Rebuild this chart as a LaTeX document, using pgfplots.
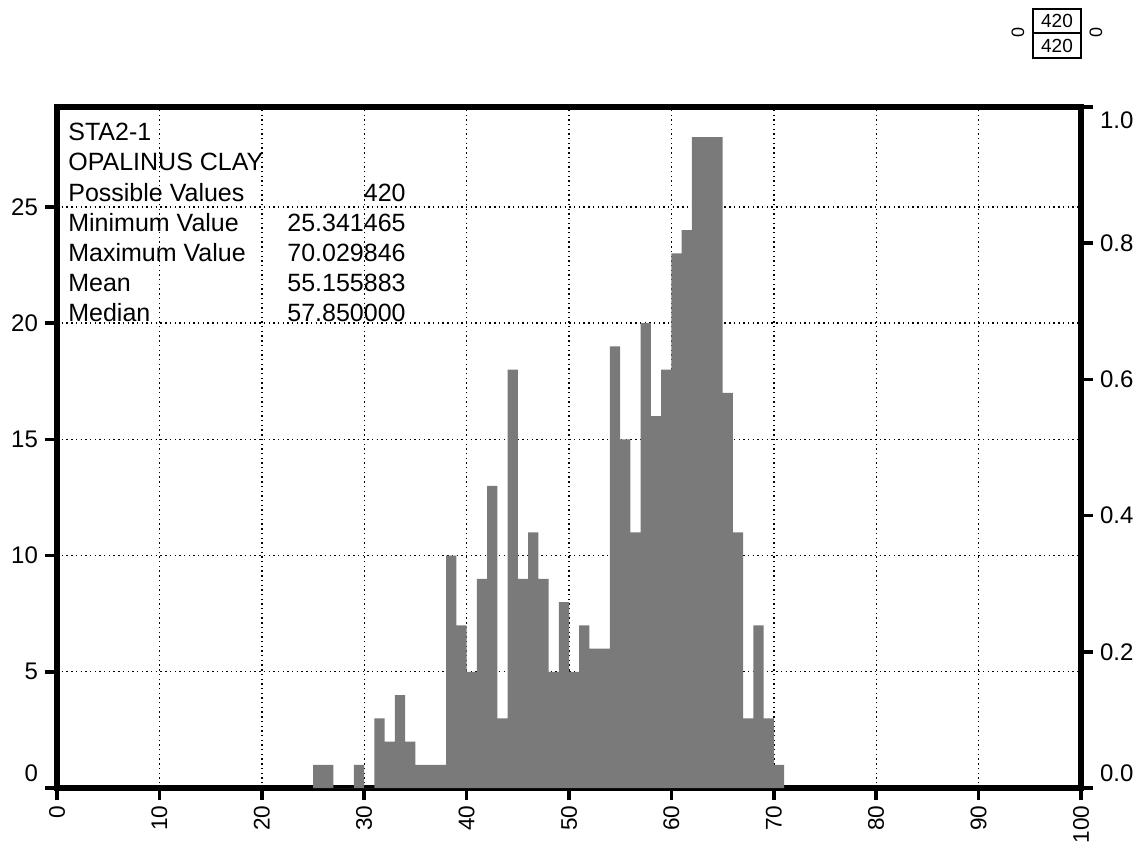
\documentclass[border=0pt]{standalone}
\usepackage{pgfplots}
\pgfplotsset{compat=1.18}
\usepackage{fontspec}
\setmainfont{Liberation Sans}
\definecolor{bargray}{RGB}{122,122,122}

% Bin counts (bin width 1), left edge -> count; last point closes the interval
\pgfplotstableread{
x   n
25  1
26  1
27  0
28  0
29  1
30  0
31  3
32  2
33  4
34  2
35  1
36  1
37  1
38  10
39  7
40  5
41  9
42  13
43  3
44  18
45  9
46  11
47  9
48  5
49  8
50  5
51  7
52  6
53  6
54  19
55  15
56  11
57  20
58  16
59  18
60  23
61  24
62  28
63  28
64  28
65  17
66  11
67  3
68  7
69  3
70  1
71  0
}\histdata

\newcommand{\lblfont}{\fontsize{12}{14}\selectfont}
\newcommand{\xlblfont}{\fontsize{11.3}{13}\selectfont}
\newcommand{\txtfont}{\fontsize{12.5}{15}\selectfont}

\begin{document}
\begin{tikzpicture}
\path[use as bounding box] (0,0) rectangle (570pt,421.5pt);

\begin{axis}[
  at={(28.5pt,27.5pt)}, anchor=south west,
  scale only axis, width=512pt, height=340.5pt,
  xmin=0, xmax=100, ymin=0, ymax=29.3,
  axis line style={line width=2.6pt},
  tick style={line width=1.8pt, black},
  major tick length=6pt,
  tick align=outside,
  xtick pos=bottom, ytick pos=left,
  xtick={0,10,...,100},
  xticklabels={0,10,20,30,40,50,60,70,80,90,100},
  ytick={0,5,...,25},
  yticklabels={\raisebox{7.5pt}[\height][\depth]{0},5,10,15,20,25},
  xticklabel style={rotate=90, anchor=east, font=\xlblfont, inner sep=2.6pt},
  yticklabel style={anchor=east, font=\lblfont},
  grid=major,
  major grid style={black, line width=0.7pt, dash pattern=on 0.7pt off 1.65pt},
]
\addplot[ybar interval, fill=bargray, draw=none] table[x=x, y=n] {\histdata};

\begin{scope}[every node/.style={inner sep=0pt, font=\txtfont}]
\node[anchor=base west] at (axis cs:1.07,27.86) {STA2-1};
\node[anchor=base west] at (axis cs:1.07,26.56) {OPALINUS CLAY};
\node[anchor=base west] at (axis cs:1.07,25.25) {Possible Values};
\node[anchor=base east] at (axis cs:34.08,25.25) {420};
\node[anchor=base west] at (axis cs:1.07,23.95) {Minimum Value};
\node[anchor=base east] at (axis cs:34.08,23.95) {25.341465};
\node[anchor=base west] at (axis cs:1.07,22.65) {Maximum Value};
\node[anchor=base east] at (axis cs:34.08,22.65) {70.029846};
\node[anchor=base west] at (axis cs:1.07,21.35) {Mean};
\node[anchor=base east] at (axis cs:34.08,21.35) {55.155883};
\node[anchor=base west] at (axis cs:1.07,20.05) {Median};
\node[anchor=base east] at (axis cs:34.08,20.05) {57.850000};
\end{scope}
\end{axis}

% right-hand scale 0..1
\begin{axis}[
  at={(28.5pt,27.5pt)}, anchor=south west,
  scale only axis, width=512pt, height=340.5pt,
  xmin=0, xmax=100, ymin=0, ymax=1,
  hide x axis,
  axis y line*=right,
  axis line style={line width=2.6pt},
  tick style={line width=1.8pt, black},
  major tick length=6pt,
  tick align=outside,
  ytick={0,0.2,...,1},
  yticklabels={\raisebox{7.5pt}[\height][\depth]{0.0},0.2,0.4,0.6,0.8,\raisebox{-6.5pt}[\height][\depth]{1.0}},
  yticklabel style={anchor=west, font=\lblfont},
]
\end{axis}

% small count box
\draw[line width=1pt] (516.5pt,392.5pt) rectangle (540.5pt,417pt);
\draw[line width=1pt] (516.5pt,404.75pt) -- (540.5pt,404.75pt);
\node[font=\fontsize{9.5}{11}\selectfont, inner sep=0pt] at (528.5pt,410.9pt) {420};
\node[font=\fontsize{9.5}{11}\selectfont, inner sep=0pt] at (528.5pt,398.6pt) {420};
\node[font=\fontsize{9}{11}\selectfont, rotate=90, inner sep=0pt] at (548pt,405.2pt) {0};
\node[font=\fontsize{9}{11}\selectfont, rotate=90, inner sep=0pt] at (509pt,405.2pt) {0};
\end{tikzpicture}
\end{document}
